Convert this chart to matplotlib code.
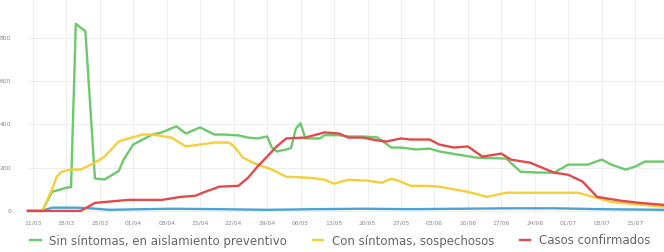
import matplotlib
matplotlib.use("Agg")
import matplotlib.pyplot as plt
import pandas as pd

start_date = "2020-03-10"
tick_days = list(range(1, 134, 7))

green_days = [0, 3, 5, 8, 9, 10, 12, 14, 16, 19, 20, 22, 24, 26, 28, 31, 33, 36, 39, 41, 44, 46, 48, 50, 51, 52, 54,
              55, 56, 57, 58, 61, 62, 65, 67, 70, 73, 76, 78, 81, 84, 86, 90, 94, 100, 103, 107, 110, 113, 117, 120,
              122, 125, 127, 129, 133]
green_vals = [0, 0, 88, 107, 110, 865, 830, 150, 145, 185, 237, 307, 330, 353, 363, 391, 358, 386, 353, 353, 349, 339,
              335, 344, 293, 275, 284, 290, 380, 405, 335, 335, 350, 350, 344, 344, 340, 293, 293, 284, 288, 275, 260,
              246, 242, 181, 177, 177, 214, 214, 237, 214, 191, 205, 228, 228]

yellow_days = [0, 3, 5, 6, 7, 9, 11, 14, 16, 19, 21, 24, 26, 30, 33, 36, 39, 42, 43, 45, 47, 51, 54, 59, 62, 64, 67, 71,
               74, 76, 78, 80, 83, 86, 92, 96, 100, 107, 115, 119, 122, 126, 133]
yellow_vals = [0, 0, 98, 158, 181, 191, 191, 223, 251, 321, 335, 353, 353, 339, 298, 307, 316, 316, 300, 246, 223, 191,
               158, 153, 144, 126, 144, 140, 130, 149, 135, 116, 116, 112, 88, 65, 84, 84, 84, 60, 42, 33, 19]

red_days = [0, 11, 14, 19, 21, 28, 32, 35, 37, 40, 44, 46, 48, 50, 52, 54, 58, 62, 65, 67, 70, 73, 75, 78, 80, 84, 86,
            89, 92, 95, 99, 101, 105, 110, 113, 116, 119, 124, 128, 133]
red_vals = [0, 0, 37, 47, 51, 51, 65, 70, 88, 112, 116, 153, 205, 251, 298, 335, 339, 363, 358, 339, 339, 326, 321, 335,
            330, 330, 307, 293, 298, 251, 265, 237, 223, 177, 167, 135, 65, 47, 37, 28]

blue_days = [0, 3, 5, 10, 13, 17, 24, 30, 40, 50, 60, 70, 80, 90, 100, 110, 120, 133]
blue_vals = [0, 0, 15, 15, 12, 5, 8, 10, 8, 5, 8, 10, 8, 10, 12, 12, 8, 5]

labels = ["Sin síntomas, en aislamiento preventivo", "Con síntomas, sospechosos", "Casos confirmados"]
colors = ["#6cc96c", "#f3cf3a", "#e2494b", "#4aa3d6"]

tick_labels = [d.strftime("%d/%m") for d in pd.to_datetime(start_date) + pd.to_timedelta(tick_days, unit="D")]

fig = plt.figure(figsize=(6.64, 2.52), dpi=100)
ax = fig.add_axes([28 / 664, 1 - 212 / 252, 1 - 28 / 664, 212 / 252])

lw = 1.7
ax.plot(blue_days, blue_vals, color=colors[3], lw=lw, clip_on=False, zorder=2)
ax.plot(green_days, green_vals, color=colors[0], lw=lw, label=labels[0], clip_on=False, zorder=3)
ax.plot(yellow_days, yellow_vals, color=colors[1], lw=lw, label=labels[1], clip_on=False, zorder=3)
ax.plot(red_days, red_vals, color=colors[2], lw=lw, label=labels[2], clip_on=False, zorder=3)

ax.set_xlim(0, 133)
ax.set_ylim(-5, 975)
ax.set_yticks([0, 200, 400, 600, 800])
ax.set_xticks(tick_days)
ax.set_xticklabels(tick_labels)
ax.tick_params(axis="both", length=0, labelsize=4.3, labelcolor="#888888")
ax.tick_params(axis="x", pad=6)
ax.tick_params(axis="y", pad=12)
ax.grid(True, color="#eeeeee", lw=0.8)
ax.set_axisbelow(True)
for s in ax.spines.values():
    s.set_visible(False)

leg = fig.legend(loc="center", bbox_to_anchor=(340 / 664, 1 - 241 / 252), ncol=3, frameon=False,
                 fontsize=8.5, handlelength=0.9, columnspacing=2.2, handletextpad=0.7, labelcolor="#666666")

fig.savefig("out.png", dpi=100, facecolor="white")
